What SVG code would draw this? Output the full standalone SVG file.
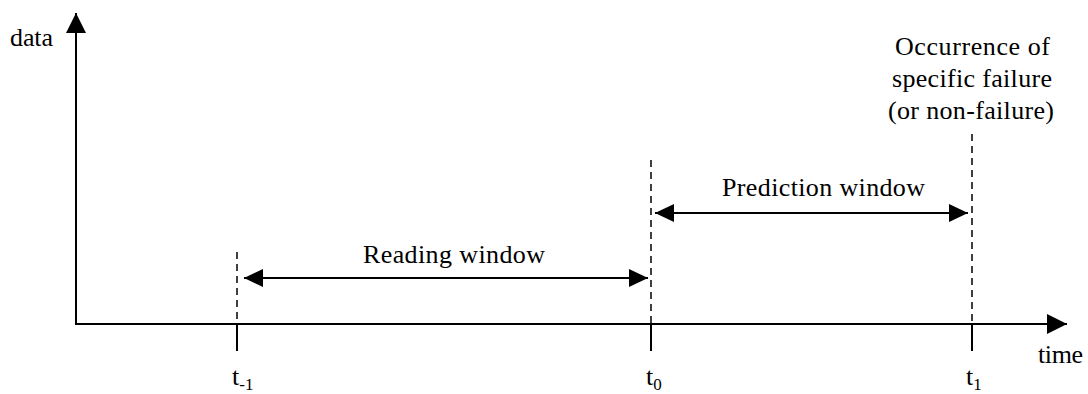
<svg xmlns="http://www.w3.org/2000/svg" width="1088" height="394" viewBox="0 0 1088 394">
<style>
text{font-family:"Liberation Serif","Times New Roman",serif;font-size:26px;fill:#000}
.ax{stroke:#000;stroke-width:2;fill:none}
.dash{stroke:#000;stroke-width:1.5;stroke-dasharray:7 5;fill:none}
.tick{stroke:#000;stroke-width:2;fill:none}
.dim{stroke:#000;stroke-width:2;fill:none}
.sub{font-size:17px}
</style>
<defs>
<marker id="ah" viewBox="0 0 20 20" refX="20" refY="10" markerWidth="20" markerHeight="20" markerUnits="userSpaceOnUse" orient="auto-start-reverse">
<path d="M0,0 L20,10 L0,20 Z" fill="#000"/>
</marker>
<marker id="dh" viewBox="0 0 19 18" refX="19" refY="9" markerWidth="19" markerHeight="18" markerUnits="userSpaceOnUse" orient="auto-start-reverse">
<path d="M0,0 L19,9 L0,18 Z" fill="#000"/>
</marker>
</defs>
<g id="axes">
<line class="ax" x1="76" y1="325" x2="76" y2="13" marker-end="url(#ah)"/>
<line class="ax" x1="75" y1="324" x2="1067" y2="324" marker-end="url(#ah)"/>
<text x="10" y="46" textLength="43" lengthAdjust="spacing">data</text>
<text x="1038" y="363" textLength="45" lengthAdjust="spacing">time</text>
</g>
<g id="t_minus1">
<line class="dash" x1="237" y1="252" x2="237" y2="324"/>
<line class="tick" x1="237" y1="324" x2="237" y2="351"/>
<text x="232" y="385">t<tspan class="sub" dy="5">-1</tspan></text>
</g>
<g id="t0">
<line class="dash" x1="651" y1="160" x2="651" y2="324"/>
<line class="tick" x1="651" y1="324" x2="651" y2="351"/>
<text x="646" y="385">t<tspan class="sub" dy="5">0</tspan></text>
</g>
<g id="t1">
<line class="dash" x1="972" y1="134" x2="972" y2="324"/>
<line class="tick" x1="972" y1="324" x2="972" y2="351"/>
<text x="966" y="385">t<tspan class="sub" dy="5">1</tspan></text>
<text x="895" y="55" textLength="155" lengthAdjust="spacing">Occurrence of</text>
<text x="892" y="87" textLength="160" lengthAdjust="spacing">specific failure</text>
<text x="888" y="119" textLength="166" lengthAdjust="spacing">(or non-failure)</text>
</g>
<g id="connectors">
<line class="dim" x1="244" y1="278" x2="648" y2="278" marker-start="url(#dh)" marker-end="url(#dh)"/>
<line class="dim" x1="655" y1="213" x2="968" y2="213" marker-start="url(#dh)" marker-end="url(#dh)"/>
</g>
<g id="labels">
<text x="363" y="263" textLength="182" lengthAdjust="spacing">Reading window</text>
<text x="722" y="196" textLength="203" lengthAdjust="spacing">Prediction window</text>
</g>
</svg>
